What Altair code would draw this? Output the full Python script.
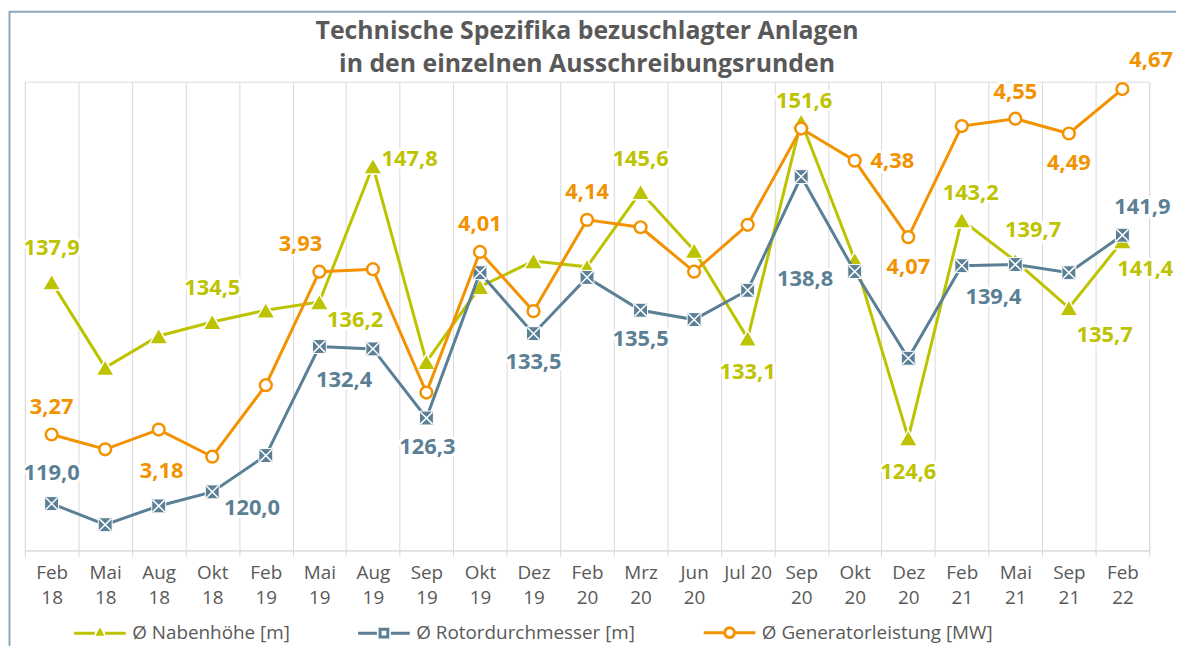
import altair as alt
import pandas as pd

# ---------------- data ----------------
CATS = ["Feb\n18", "Mai\n18", "Aug\n18", "Okt\n18", "Feb\n19", "Mai\n19", "Aug\n19",
        "Sep\n19", "Okt\n19", "Dez\n19", "Feb\n20", "Mrz\n20", "Jun\n20", "Jul 20",
        "Sep\n20", "Okt\n20", "Dez\n20", "Feb\n21", "Mai\n21", "Sep\n21", "Feb\n22"]
SERIES = ["Ø Nabenhöhe [m]", "Ø Rotordurchmesser [m]", "Ø Generatorleistung [MW]"]
NABEN = [137.9, 130.6, 133.3, 134.5, 135.5, 136.2, 147.8, 131.1, 137.5, 139.7, 139.2,
         145.6, 140.6, 133.1, 151.6, 139.8, 124.6, 143.2, 139.7, 135.7, 141.4]
ROTOR = [119.0, 117.2, 118.8, 120.0, 123.1, 132.4, 132.2, 126.3, 138.7, 133.5, 138.3,
         135.5, 134.7, 137.2, 146.9, 138.8, 131.4, 139.3, 139.4, 138.7, 141.9]
GEN = [3.27, 3.21, 3.29, 3.18, 3.47, 3.93, 3.94, 3.44, 4.01, 3.77, 4.14,
       4.11, 3.93, 4.12, 4.51, 4.38, 4.07, 4.52, 4.55, 4.49, 4.67]
TITLE = ["Technische Spezifika bezuschlagter Anlagen", "in den einzelnen Ausschreibungsrunden"]

# ---------------- styling / label placement ----------------
YEL, BLUE, ORANGE = "#BDC300", "#5B7F95", "#F39200"
COLORS = [YEL, BLUE, ORANGE]
GREY = "#595959"
GRID = "#D9D9D9"
FONT = "Open Sans"
W, H = 1132, 472

# (index, dx, dy) of labelled points
LAB_NABEN = [(0, 0, -34), (3, 0, -34), (5, 36, 18), (6, 37, -7), (11, 0, -33), (13, 0, 34),
             (14, 3, -21), (16, 0, 34), (17, 9, -27), (18, 18, -31), (19, 36, 27), (20, 23, 28)]
LAB_ROTOR = [(0, 0, -31), (3, 40, 16), (5, 25, 34), (7, 1, 29), (9, 0, 29), (11, 0, 29),
             (15, -50, 8), (18, -22, 33), (20, 20, -28)]
LAB_GEN = [(0, 0, -28), (3, -51, 14), (5, -19, -28), (8, 0, -28), (10, 0, -28), (15, 38, 0),
           (16, 0, 30), (18, 0, -27), (19, 0, 30), (20, 29, -29)]


def frame(vals, series, dec):
    return pd.DataFrame({
        "cat": CATS,
        "i": list(range(len(CATS))),
        "series": series,
        "value": vals,
        "text": [f"{v:.{dec}f}".replace(".", ",") for v in vals],
    })


df_n = frame(NABEN, SERIES[0], 1)
df_r = frame(ROTOR, SERIES[1], 1)
df_g = frame(GEN, SERIES[2], 2)

x_enc = alt.X(
    "cat:N", sort=CATS,
    scale=alt.Scale(type="band", paddingInner=0, paddingOuter=0),
    axis=alt.Axis(
        title=None, labelAngle=0, labelExpr="split(datum.label, '\\n')",
        labelFont=FONT, labelFontSize=19, labelColor=GREY, labelLineHeight=25.5,
        labelBaseline="top", labelPadding=7,
        tickBand="extent", tickSize=6, tickColor=GRID, tickWidth=1,
        domainColor=GRID, domainWidth=1, grid=True, gridColor=GRID, gridWidth=1,
    ),
)
y_main = alt.Y("value:Q", scale=alt.Scale(domain=[115, 155], nice=False, zero=False), axis=None)
y_gen = alt.Y("value:Q", scale=alt.Scale(domain=[2.8, 4.7], nice=False, zero=False), axis=None)

sym_expr = (
    "datum.value == '" + SERIES[0] + "' ? "
    "'M-1,0H-0.2M0.2,0H1M0,-0.1L0.075,0.04L-0.075,0.04Z' : "
    "datum.value == '" + SERIES[1] + "' ? "
    "'M-1,0H-0.27M0.27,0H1M-0.15,-0.15H0.15V0.15H-0.15Z' : "
    "'M-1,0H-0.19M0.19,0H1M0.19,0A0.19,0.19 0 1,1 -0.19,0A0.19,0.19 0 1,1 0.19,0Z'"
)
legend = alt.Legend(
    title=None, orient="none", legendX=48, legendY=527, direction="horizontal",
    symbolType={"expr": sym_expr}, symbolSize=2704, symbolStrokeWidth=3,
    labelFont=FONT, labelFontSize=19, labelColor=GREY, labelOffset=5,
    columnPadding=62, padding=0, labelLimit=400,
)
color_enc = alt.Color("series:N", scale=alt.Scale(domain=SERIES, range=COLORS), legend=legend)

# chart border
border = alt.Chart(pd.DataFrame({"a": [0]})).mark_rect(
    fillOpacity=0, stroke="#8EA7BB", strokeWidth=2
).encode(x=alt.value(-15.5), x2=alt.value(1400), y=alt.value(-70.5), y2=alt.value(900))

layers = [border]


def series_layers(df, y_enc):
    return alt.Chart(df).mark_line(strokeWidth=3).encode(x=x_enc, y=y_enc, color=color_enc)


# Nabenhöhe
layers.append(series_layers(df_n, y_main))
layers.append(alt.Chart(df_n).mark_point(shape="triangle-up", filled=True, fill=YEL, stroke="white",
                                         strokeWidth=1.5, size=340, opacity=1).encode(x=x_enc, y=y_main))
# Rotordurchmesser
layers.append(series_layers(df_r, y_main))
layers.append(alt.Chart(df_r).mark_square(fill=BLUE, stroke="white", strokeWidth=1, size=196,
                                          opacity=1).encode(x=x_enc, y=y_main))
layers.append(alt.Chart(df_r).mark_point(shape="M-1,-1L1,1M1,-1L-1,1", filled=False, stroke="white",
                                         strokeWidth=1.5, size=150, opacity=1).encode(x=x_enc, y=y_main))
# Generatorleistung
layers.append(series_layers(df_g, y_gen))
layers.append(alt.Chart(df_g).mark_point(shape="circle", filled=True, fill="white", stroke=ORANGE,
                                         strokeWidth=2.5, size=140, opacity=1).encode(x=x_enc, y=y_gen))

# data labels (white halo + coloured text)
for df, labs, col, y_enc in [(df_n, LAB_NABEN, YEL, y_main), (df_r, LAB_ROTOR, BLUE, y_main),
                             (df_g, LAB_GEN, ORANGE, y_gen)]:
    for idx, dx, dy in labs:
        base = alt.Chart(df).transform_filter(alt.datum.i == idx)
        layers.append(base.mark_text(dx=dx, dy=dy, font=FONT, fontSize=22, fontWeight="bold",
                                     fill="white", stroke="white", strokeWidth=6, strokeJoin="round",
                                     align="center", baseline="middle")
                      .encode(x=x_enc, y=y_enc, text="text:N"))
        layers.append(base.mark_text(dx=dx, dy=dy, font=FONT, fontSize=22, fontWeight="bold",
                                     fill=col, align="center", baseline="middle")
                      .encode(x=x_enc, y=y_enc, text="text:N"))

chart = alt.layer(*layers).resolve_scale(y="independent").properties(
    width=W, height=H,
    title=alt.TitleParams(TITLE, font=FONT, fontSize=25, fontWeight="bold", color=GREY,
                          lineHeight=33, anchor="middle", frame="group", offset=-67),
    padding={"left": 17, "top": 72, "right": 27, "bottom": 94},
    autosize=alt.AutoSizeParams(type="none"),
).configure_view(stroke=None).configure(background="white")

chart.save("out.html", embed_options={"renderer": "svg", "actions": False})
